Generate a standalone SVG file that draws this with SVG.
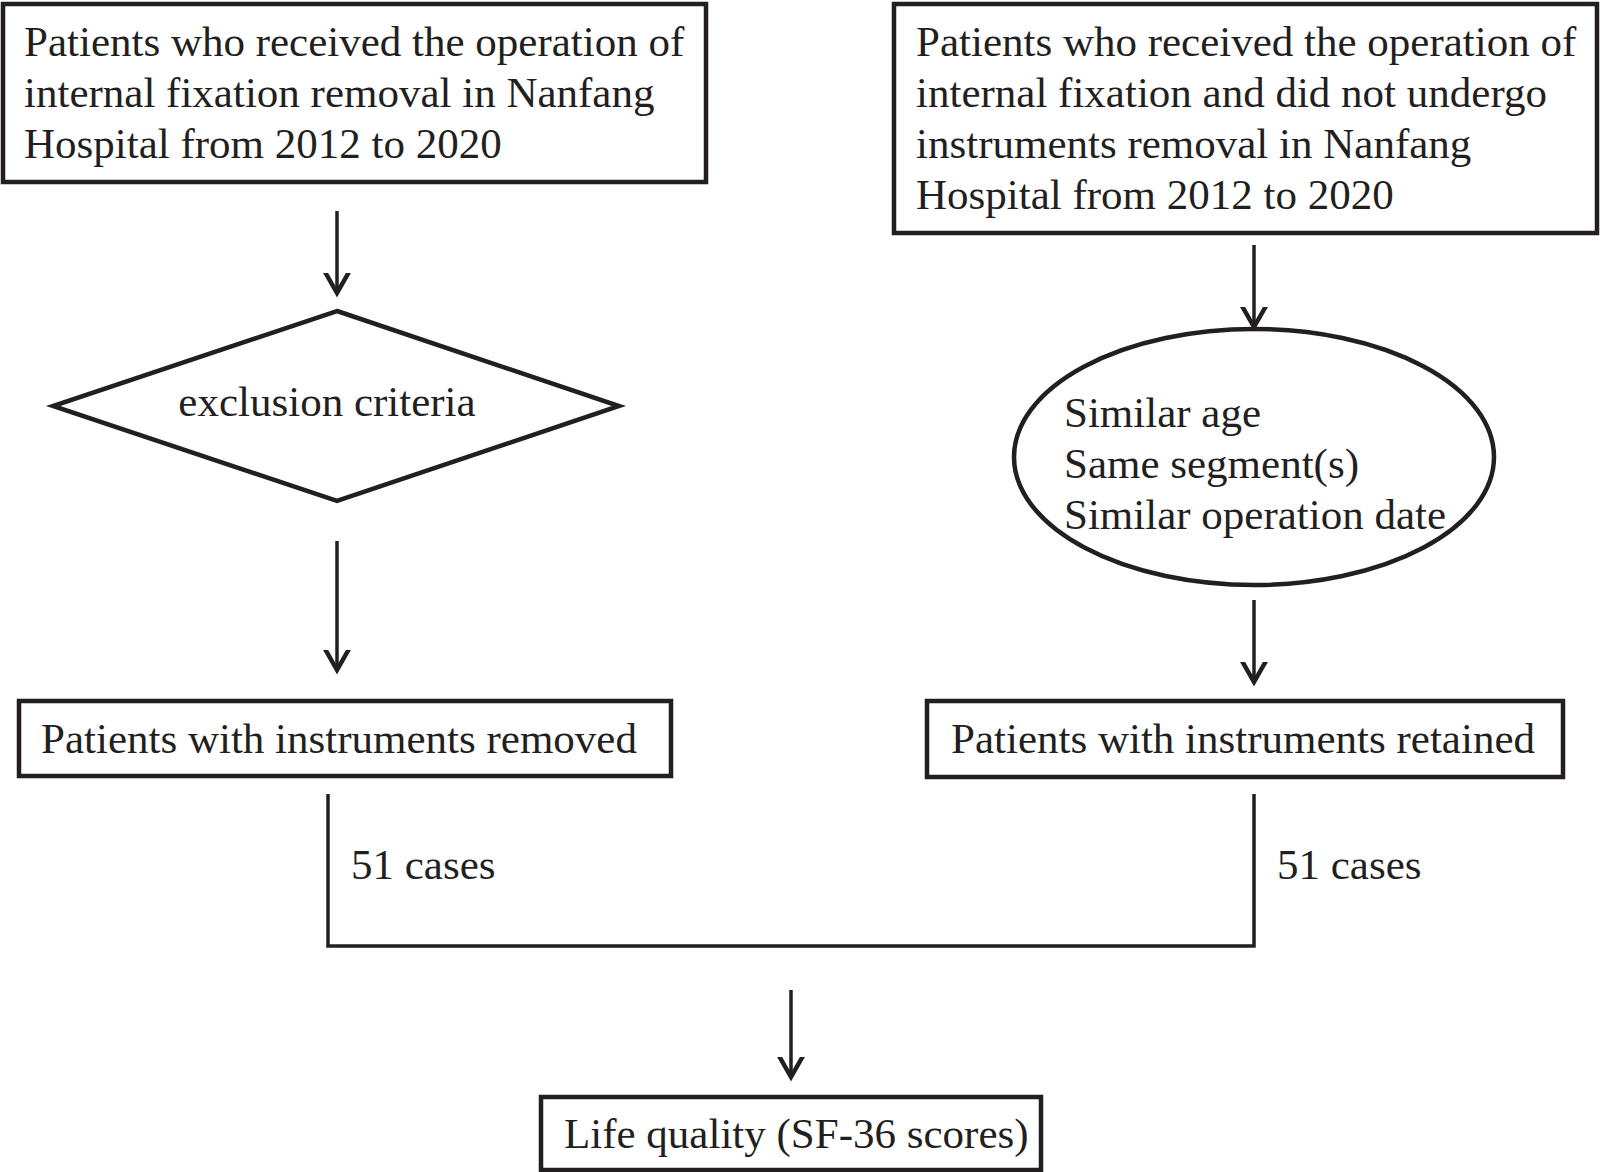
<svg xmlns="http://www.w3.org/2000/svg" width="1600" height="1172" viewBox="0 0 1600 1172">
<style>
.box{fill:#fff;stroke:#231f20;stroke-width:4.5}
.t{font-family:"Liberation Serif","Times New Roman",serif;font-size:43px;fill:#231f20}
.c{fill:none;stroke:#231f20;stroke-width:3.5}
</style>
<defs>
<marker id="ah" markerUnits="userSpaceOnUse" markerWidth="40" markerHeight="40" viewBox="-20 -20 40 40" refX="0" refY="0" orient="auto">
<path d="M-21,-12 L0,0 L-21,12" fill="none" stroke="#231f20" stroke-width="4.5" stroke-linecap="round" stroke-linejoin="miter"/>
</marker>
</defs>
<rect width="1600" height="1172" fill="#fff"/>
<g id="n1">
<rect class="box" x="3" y="4" width="703" height="178"/>
<text class="t" x="24" y="56">Patients who received the operation of</text>
<text class="t" x="24" y="107">internal fixation removal in Nanfang</text>
<text class="t" x="24" y="158">Hospital from 2012 to 2020</text>
</g>
<g id="n2">
<rect class="box" x="894" y="4" width="703" height="229"/>
<text class="t" x="916" y="56">Patients who received the operation of</text>
<text class="t" x="916" y="107">internal fixation and did not undergo</text>
<text class="t" x="916" y="158">instruments removal in Nanfang</text>
<text class="t" x="916" y="209">Hospital from 2012 to 2020</text>
</g>
<g id="n3">
<polygon class="box" points="337,311 619,406 337,501 53,406"/>
<text class="t" x="327" y="416" text-anchor="middle">exclusion criteria</text>
</g>
<g id="n4">
<ellipse class="box" cx="1254" cy="457" rx="240" ry="128"/>
<text class="t" x="1064" y="427">Similar age</text>
<text class="t" x="1064" y="478">Same segment(s)</text>
<text class="t" x="1064" y="529">Similar operation date</text>
</g>
<g id="n5">
<rect class="box" x="19" y="701" width="652" height="75"/>
<text class="t" x="41" y="753">Patients with instruments removed</text>
</g>
<g id="n6">
<rect class="box" x="927" y="701" width="636" height="76"/>
<text class="t" x="951" y="753">Patients with instruments retained</text>
</g>
<g id="n7">
<rect class="box" x="541" y="1097" width="500" height="73"/>
<text class="t" x="564" y="1148">Life quality (SF-36 scores)</text>
</g>
<g id="connectors">
<line class="c" x1="337" y1="211" x2="337" y2="293" marker-end="url(#ah)"/>
<line class="c" x1="337" y1="541" x2="337" y2="670" marker-end="url(#ah)"/>
<line class="c" x1="1254" y1="245" x2="1254" y2="327" marker-end="url(#ah)"/>
<line class="c" x1="1254" y1="600" x2="1254" y2="682" marker-end="url(#ah)"/>
<polyline class="c" points="328,794 328,946 1254,946 1254,794"/>
<line class="c" x1="791" y1="990" x2="791" y2="1077" marker-end="url(#ah)"/>
<text class="t" x="351" y="879">51 cases</text>
<text class="t" x="1277" y="879">51 cases</text>
</g>
</svg>
